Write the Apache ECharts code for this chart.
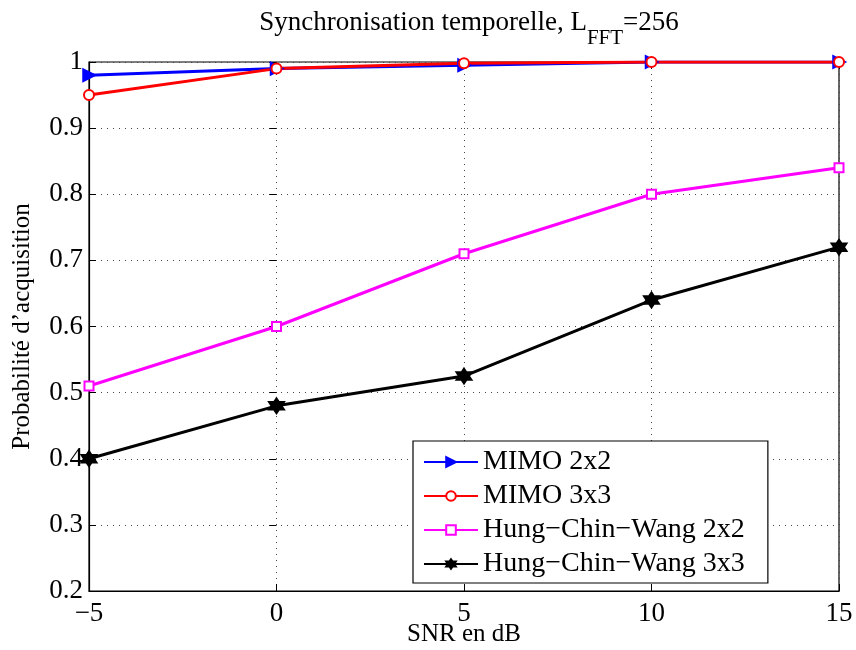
<!DOCTYPE html>
<html>
<head>
<meta charset="utf-8">
<script src="https://cdn.jsdelivr.net/npm/echarts@6/dist/echarts.min.js"></script>
<style>
  html, body { margin: 0; padding: 0; background: #fff; }
  #chart { width: 856px; height: 650px; }
</style>
</head>
<body>
<div id="chart"></div>
<script>
// SNR values (dB)
const snr = [-5, 0, 5, 10, 15];
const mimo2x2 = [0.98, 0.99, 0.995, 1.0, 1.0];
const mimo3x3 = [0.95, 0.99, 0.998, 1.0, 1.0];
const hcw2x2 = [0.51, 0.60, 0.71, 0.80, 0.84];
const hcw3x3 = [0.40, 0.48, 0.525, 0.64, 0.72];

const font = 'Liberation Serif';
// six-pointed star for the black curve
const star = 'path://M0,-10 L2.9,-5 L8.66,-5 L5.8,0 L8.66,5 L2.9,5 L0,10 L-2.9,5 L-8.66,5 L-5.8,0 L-8.66,-5 L-2.9,-5 Z';

const pairs = (ys) => snr.map((x, i) => [x, ys[i]]);

const chart = echarts.init(document.getElementById('chart'));

const mkSeries = (name, data, color, symbol, size, rotate) => ({
  name: name,
  type: 'line',
  data: pairs(data),
  symbol: symbol,
  symbolSize: size,
  symbolRotate: rotate || 0,
  lineStyle: { color: color, width: 3 },
  itemStyle: { color: color, borderColor: color, borderWidth: 2.5 },
  emphasis: { disabled: true },
  animation: false
});

const tickOnly = { show: true, inside: true, length: 7, lineStyle: { color: '#000' } };
const dotted = { show: true, lineStyle: { color: '#444', type: [1, 5], width: 1 } };

const option = {
  backgroundColor: '#fff',
  textStyle: { fontFamily: font },
  title: {
    text: '{a|Synchronisation temporelle, L}{s|FFT}{a|=256}',
    left: 464,
    textAlign: 'center',
    top: 4,
    textStyle: {
      fontWeight: 'normal',
      rich: {
        a: { fontFamily: font, fontSize: 27, color: '#000', fontWeight: 'normal', verticalAlign: 'top', lineHeight: 30 },
        s: { fontFamily: font, fontSize: 21, color: '#000', fontWeight: 'normal', verticalAlign: 'top', lineHeight: 24, padding: [19, 0, 0, 0] }
      }
    }
  },
  grid: {
    left: 89, right: 17, top: 62, bottom: 59,
    outerBoundsMode: 'none',
    show: true, borderColor: '#000', borderWidth: 1.2
  },
  legend: {
    orient: 'vertical',
    left: 413,
    top: 441,
    padding: [7, 23, 5, 10],
    itemGap: 6,
    itemWidth: 54,
    itemHeight: 12,
    borderColor: '#000',
    borderWidth: 1.2,
    borderRadius: 0,
    backgroundColor: '#fff',
    textStyle: { fontFamily: font, fontSize: 28, color: '#000' },
    data: ['MIMO 2x2', 'MIMO 3x3', 'Hung\u2212Chin\u2212Wang 2x2', 'Hung\u2212Chin\u2212Wang 3x3']
  },
  xAxis: [{
    type: 'value',
    min: -5, max: 15, interval: 5,
    name: 'SNR en dB',
    nameLocation: 'middle',
    nameGap: 43,
    nameMoveOverlap: false,
    nameTextStyle: { fontFamily: font, fontSize: 25, color: '#000', verticalAlign: 'middle', lineHeight: 25 },
    axisLine: { show: true, onZero: false, lineStyle: { color: '#000', width: 1.2 } },
    axisTick: tickOnly,
    axisLabel: {
      fontFamily: font, fontSize: 27, color: '#000', margin: 9,
      formatter: (v) => v < 0 ? '\u2212' + Math.abs(v) : String(v)
    },
    splitLine: dotted
  }, {
    type: 'value', position: 'top',
    min: -5, max: 15, interval: 5,
    axisLine: { show: false },
    axisTick: tickOnly,
    axisLabel: { show: false },
    splitLine: { show: false }
  }],
  yAxis: [{
    type: 'value',
    min: 0.2, max: 1, interval: 0.1,
    name: 'Probabilit\u00e9 d\u2019acquisition',
    nameLocation: 'middle',
    nameGap: 54,
    nameTextStyle: { fontFamily: font, fontSize: 25, color: '#000' },
    axisLine: { show: true, onZero: false, lineStyle: { color: '#000', width: 1.2 } },
    axisTick: tickOnly,
    axisLabel: {
      fontFamily: font, fontSize: 27, color: '#000', margin: 6,
      formatter: (v) => (Math.round(v * 10) / 10).toString()
    },
    splitLine: dotted
  }, {
    type: 'value', position: 'right',
    min: 0.2, max: 1, interval: 0.1,
    axisLine: { show: false },
    axisTick: tickOnly,
    axisLabel: { show: false },
    splitLine: { show: false }
  }],
  series: [
    mkSeries('MIMO 2x2', mimo2x2, '#0000ff', 'triangle', 11, -90),
    mkSeries('MIMO 3x3', mimo3x3, '#ff0000', 'emptyCircle', 10),
    mkSeries('Hung\u2212Chin\u2212Wang 2x2', hcw2x2, '#ff00ff', 'emptyRect', 9),
    mkSeries('Hung\u2212Chin\u2212Wang 3x3', hcw3x3, '#000000', star, 14)
  ]
};

chart.setOption(option);
</script>
</body>
</html>
